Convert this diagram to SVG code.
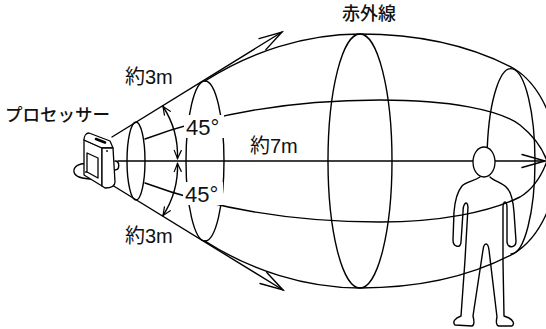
<svg xmlns="http://www.w3.org/2000/svg" width="546" height="329" viewBox="0 0 546 329">
  <style>
    .ln { fill: none; stroke: #000; stroke-width: 1.4; stroke-linecap: round; stroke-linejoin: round; }
    .body { fill: #fff; stroke: #000; stroke-width: 1.3; stroke-linejoin: round; }
    .lbl { font-family: "Liberation Sans", "Noto Sans CJK JP", sans-serif; fill: #111; }
    .jp { font-family: "Noto Sans CJK JP", "Liberation Sans", sans-serif; font-weight: 500; fill: #111; }
    .bg { fill: #fff; stroke: none; }
  </style>
  <defs>
    <marker id="bigArrow" markerUnits="userSpaceOnUse" viewBox="-26 -10 30 20" markerWidth="30" markerHeight="20" refX="0" refY="0" orient="auto" overflow="visible">
      <path d="M-23,-6.5 L0,0 L-23,6.5" fill="none" stroke="#000" stroke-width="1.4" stroke-linecap="round" stroke-linejoin="miter"/>
    </marker>
    <marker id="smallArrow" markerUnits="userSpaceOnUse" viewBox="-10 -5 12 10" markerWidth="12" markerHeight="10" refX="0" refY="0" orient="auto-start-reverse" overflow="visible">
      <path d="M-8,-3.5 L0,0 L-8,3.5" fill="none" stroke="#000" stroke-width="1.2" stroke-linecap="round"/>
    </marker>
  </defs>

  <rect x="0" y="0" width="546" height="329" fill="#fff"/>

  <g id="connectors">
    <!-- outer envelope of the beam -->
    <path class="ln" d="M205,81 C250,52 305,34 360,34 C425,34 475,48 513,68 C530,78 541,95 548,112 C556,130 558,150 558,161 C558,172 556,192 548,210 C541,227 530,244 513,254 C475,274 425,288 360,288 C305,288 250,270 205,241"/>
    <!-- cross-section ellipses -->
    <ellipse class="ln" cx="136" cy="161" rx="9" ry="39"/>
    <ellipse class="ln" cx="205" cy="161" rx="19" ry="80"/>
    <ellipse class="ln" cx="360" cy="161" rx="32" ry="127"/>
    <path class="ln" d="M487.3,147 A24,93 0 0 1 535,161 A24,93 0 0 1 511,254"/>
    <!-- latitude lines -->
    <path class="ln" d="M145,139 C180,126 260,100 380,100 C450,100 500,110 520,125 C535,137 543,150 547,161"/>
    <path class="ln" d="M145,183 C180,196 260,222 380,222 C440,222 490,212 520,197 C535,188 543,172 547,161"/>
    <!-- central axis -->
    <path class="ln" d="M118,161 L545,161" marker-end="url(#bigArrow)"/>
    <!-- cone edges -->
    <path class="ln" d="M112,137 L282,32" marker-end="url(#bigArrow)"/>
    <path class="ln" d="M112,185 L283,290" marker-end="url(#bigArrow)"/>
    <!-- 45 degree angle arcs -->
    <path class="ln" d="M163,106.5 A90,90 0 0 1 177.5,158.5" marker-start="url(#smallArrow)" marker-end="url(#smallArrow)"/>
    <path class="ln" d="M177.5,163.5 A90,90 0 0 1 163,215.5" marker-start="url(#smallArrow)" marker-end="url(#smallArrow)"/>
  </g>

  <g id="labels">
    <text class="jp" x="342" y="20" font-size="18">赤外線</text>
    <text class="jp" x="5" y="120.5" font-size="17.5">プロセッサー</text>
    <text class="lbl" x="125" y="84" font-size="20">約3m</text>
    <text class="lbl" x="125" y="243" font-size="20">約3m</text>
    <text class="lbl" x="250" y="153" font-size="20">約7m</text>
    <rect class="bg" x="184" y="115" width="40" height="23"/>
    <text class="lbl" x="186" y="135" font-size="22">45°</text>
    <rect class="bg" x="183" y="182" width="40" height="23"/>
    <text class="lbl" x="185" y="202" font-size="22">45°</text>
  </g>

  <g id="person">
    <path class="ln" stroke-width="1.3" d="M480,177 C474,181 466,182 462,186 C457,192 455,200 454,212 L453,240 C453,247 461,249 461,242 L463,212 C463,204 467,199 468,207 L465,260 L461,316 C455,318 452,322 455,325 L472,326 C475,325 474,320 473,316 L483,250 C484,242 488,242 489,250 L497,317 C496,321 496,326 499,326 L512,326 C515,324 513,320 509,318 L504,316 L503,262 L503,208 C503,200 507,200 507,208 L507,242 C508,249 516,248 516,241 L514,212 C513,200 511,192 507,188 C503,183 494,181 490,177"/>
    <ellipse class="body" cx="484" cy="162" rx="11" ry="15"/>
  </g>

  <g id="processor">
    <!-- base -->
    <path class="body" d="M90,164 C79,162 73,167 74,172 C75,177 82,179 94,179 Z"/>
    <!-- side panel -->
    <path class="body" d="M84,140 L102,148 L102,186 L84,175 Z"/>
    <!-- recessed window -->
    <path class="body" d="M87,153 L98,158 L98,178 L87,172 Z"/>
    <!-- top face -->
    <path class="body" d="M84,140 C84,136 86,133 89,133 L110,141 L113,148 L102,148 Z"/>
    <path d="M96,139 L105,142.5" stroke="#000" stroke-width="2.6" stroke-linecap="round"/>
    <!-- front face -->
    <path class="body" d="M102,148 L113,148 L115,182 C115,186 111,188 105,188 L102,186 Z"/>
    <path class="ln" stroke-width="1.3" d="M115,161 C120,161 120,170 115,170"/>
    <circle cx="107" cy="151" r="0.9" fill="#000"/>
    <circle cx="86" cy="172" r="0.9" fill="#000"/>
  </g>
</svg>
